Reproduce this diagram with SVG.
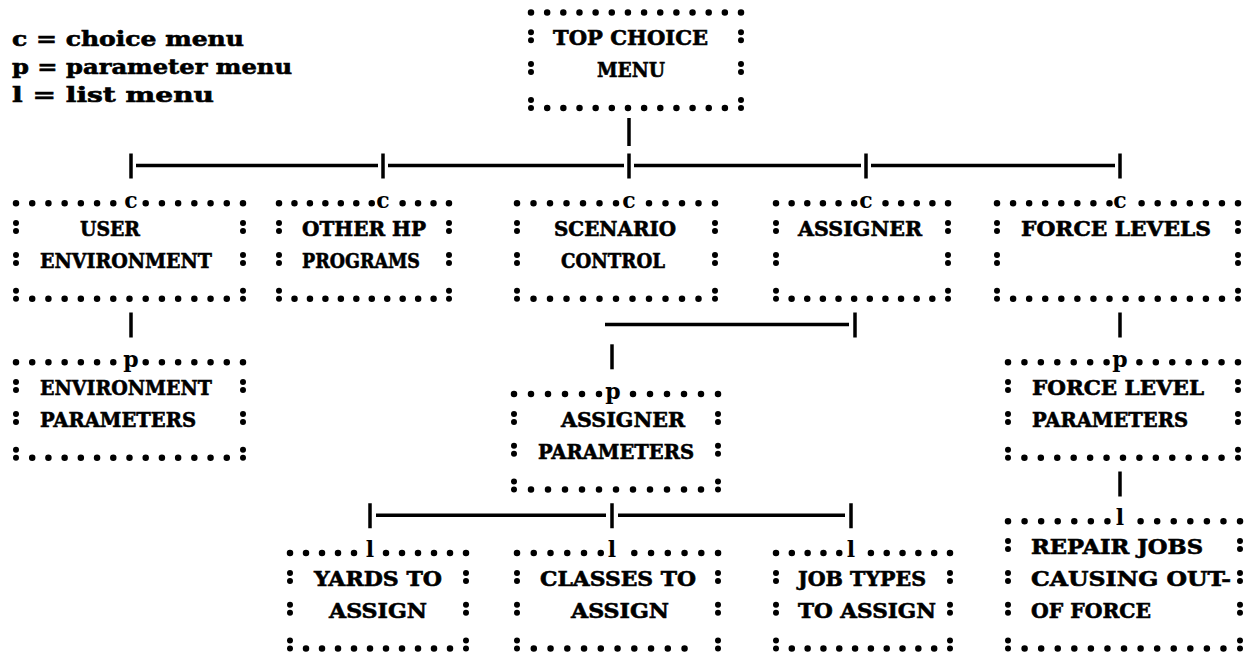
<svg xmlns="http://www.w3.org/2000/svg" width="1256" height="659" viewBox="0 0 1256 659">
<style>
.t{font-family:"DejaVu Serif","Liberation Serif",serif;font-weight:bold;font-size:20px;fill:#000;stroke:#000;stroke-width:0.6;}
.m{font-family:"DejaVu Serif","Liberation Serif",serif;font-weight:bold;font-size:22px;fill:#000;text-anchor:middle;}
.d{fill:none;stroke:#000;stroke-width:6.5;stroke-linecap:round;}
.k{fill:none;stroke:#000;stroke-width:6;stroke-linecap:round;stroke-dasharray:0 7.99;}
.ln{fill:none;stroke:#000;stroke-width:3.5;stroke-linecap:butt;}
</style>
<rect width="1256" height="659" fill="#fff"/>
<g id="legend">
<text class="t" x="12" y="46" textLength="232" lengthAdjust="spacingAndGlyphs">c = choice menu</text>
<text class="t" x="12" y="74" textLength="280" lengthAdjust="spacingAndGlyphs">p = parameter menu</text>
<text class="t" x="12" y="102" textLength="202" lengthAdjust="spacingAndGlyphs">l = list menu</text>
</g>
<g id="top-choice-menu">
<path class="d" style="stroke-dasharray:0 16.154" d="M531 12.5H741.1"/>
<path class="k" d="M531 32.3v8M741 32.3v8M531 64.1v8M741 64.1v8M531 99.9v8M741 99.9v8"/>
<path class="d" style="stroke-dasharray:0 16.154" d="M547.2 107.9H725"/>
<text class="t" x="553" y="45.3" textLength="155" lengthAdjust="spacingAndGlyphs">TOP CHOICE</text>
<text class="t" x="597" y="77.1" textLength="68" lengthAdjust="spacingAndGlyphs">MENU</text>
</g>
<g id="user-environment">
<path class="d" style="stroke-dasharray:0 16.214" d="M16 203.3H113.4M145.7 203.3H243.1"/>
<text class="m" x="131" y="208.3">c</text>
<path class="k" d="M16 223.1v8M243 223.1v8M16 254.9v8M243 254.9v8M16 290.7v8M243 290.7v8"/>
<path class="d" style="stroke-dasharray:0 16.214" d="M32.2 298.7H226.9"/>
<text class="t" x="80" y="236.1" textLength="60" lengthAdjust="spacingAndGlyphs">USER</text>
<text class="t" x="40" y="267.9" textLength="172" lengthAdjust="spacingAndGlyphs">ENVIRONMENT</text>
</g>
<g id="other-hp-programs">
<path class="d" style="stroke-dasharray:0 15.4545" d="M279 203.3H371.8M402.6 203.3H449.1"/>
<text class="m" x="383" y="208.3">c</text>
<path class="k" d="M279 223.1v8M449 223.1v8M279 254.9v8M449 254.9v8M279 290.7v8M449 290.7v8"/>
<path class="d" style="stroke-dasharray:0 15.4545" d="M294.5 298.7H433.6"/>
<text class="t" x="302" y="236.1" textLength="124" lengthAdjust="spacingAndGlyphs">OTHER HP</text>
<text class="t" x="302" y="267.9" textLength="118" lengthAdjust="spacingAndGlyphs">PROGRAMS</text>
</g>
<g id="scenario-control">
<path class="d" style="stroke-dasharray:0 16.5" d="M517 203.3H616.1M649 203.3H715.1"/>
<text class="m" x="629" y="208.3">c</text>
<path class="k" d="M517 223.1v8M715 223.1v8M517 254.9v8M715 254.9v8M517 290.7v8M715 290.7v8"/>
<path class="d" style="stroke-dasharray:0 16.5" d="M533.5 298.7H698.6"/>
<text class="t" x="554" y="236.1" textLength="122" lengthAdjust="spacingAndGlyphs">SCENARIO</text>
<text class="t" x="561" y="267.9" textLength="104" lengthAdjust="spacingAndGlyphs">CONTROL</text>
</g>
<g id="assigner">
<path class="d" style="stroke-dasharray:0 15.636" d="M776 203.3H854.3M885.5 203.3H948.1"/>
<text class="m" x="866" y="208.3">c</text>
<path class="k" d="M776 223.1v8M948 223.1v8M776 254.9v8M948 254.9v8M776 290.7v8M948 290.7v8"/>
<path class="d" style="stroke-dasharray:0 15.636" d="M791.6 298.7H932.4"/>
<text class="t" x="798" y="236.1" textLength="124" lengthAdjust="spacingAndGlyphs">ASSIGNER</text>
</g>
<g id="force-levels">
<path class="d" style="stroke-dasharray:0 16.067" d="M997 203.3H1109.6M1141.6 203.3H1238.1"/>
<text class="m" x="1120" y="208.3">c</text>
<path class="k" d="M997 223.1v8M1238 223.1v8M997 254.9v8M1238 254.9v8M997 290.7v8M1238 290.7v8"/>
<path class="d" style="stroke-dasharray:0 16.067" d="M1013.1 298.7H1222"/>
<text class="t" x="1021" y="236.1" textLength="190" lengthAdjust="spacingAndGlyphs">FORCE LEVELS</text>
</g>
<g id="environment-parameters">
<path class="d" style="stroke-dasharray:0 16.214" d="M16 362.3H113.4M145.7 362.3H243.1"/>
<text class="m" x="131" y="367.3">p</text>
<path class="k" d="M16 382.1v8M243 382.1v8M16 413.9v8M243 413.9v8M16 449.7v8M243 449.7v8"/>
<path class="d" style="stroke-dasharray:0 16.214" d="M32.2 457.7H226.9"/>
<text class="t" x="40" y="395.1" textLength="172" lengthAdjust="spacingAndGlyphs">ENVIRONMENT</text>
<text class="t" x="40" y="426.9" textLength="156" lengthAdjust="spacingAndGlyphs">PARAMETERS</text>
</g>
<g id="force-level-parameters">
<path class="d" style="stroke-dasharray:0 16.43" d="M1008 362.3H1106.7M1139.4 362.3H1238.1"/>
<text class="m" x="1120" y="367.3">p</text>
<path class="k" d="M1008 382.1v8M1238 382.1v8M1008 413.9v8M1238 413.9v8M1008 449.7v8M1238 449.7v8"/>
<path class="d" style="stroke-dasharray:0 16.43" d="M1024.4 457.7H1221.7"/>
<text class="t" x="1032" y="395.1" textLength="172" lengthAdjust="spacingAndGlyphs">FORCE LEVEL</text>
<text class="t" x="1032" y="426.9" textLength="156" lengthAdjust="spacingAndGlyphs">PARAMETERS</text>
</g>
<g id="assigner-parameters">
<path class="d" style="stroke-dasharray:0 17" d="M514 394.1H599.1M633 394.1H718.1"/>
<text class="m" x="613" y="399.1">p</text>
<path class="k" d="M514 413.9v8M718 413.9v8M514 445.7v8M718 445.7v8M514 481.5v8M718 481.5v8"/>
<path class="d" style="stroke-dasharray:0 17" d="M531 489.5H701.1"/>
<text class="t" x="561" y="426.9" textLength="124" lengthAdjust="spacingAndGlyphs">ASSIGNER</text>
<text class="t" x="538" y="458.7" textLength="156" lengthAdjust="spacingAndGlyphs">PARAMETERS</text>
</g>
<g id="yards-to-assign">
<path class="d" style="stroke-dasharray:0 16" d="M290 553.1H354.1M386 553.1H466.1"/>
<text class="m" x="370" y="557.1">l</text>
<path class="k" d="M290 572.9v8M466 572.9v8M290 604.7v8M466 604.7v8M290 640.5v8M466 640.5v8"/>
<path class="d" style="stroke-dasharray:0 16" d="M306 648.5H450.1"/>
<text class="t" x="314" y="585.9" textLength="128" lengthAdjust="spacingAndGlyphs">YARDS TO</text>
<text class="t" x="329" y="617.7" textLength="98" lengthAdjust="spacingAndGlyphs">ASSIGN</text>
</g>
<g id="classes-to-assign">
<path class="d" style="stroke-dasharray:0 16.75" d="M517 553.1H600.8M634.3 553.1H718.1"/>
<text class="m" x="612" y="557.1">l</text>
<path class="k" d="M517 572.9v8M718 572.9v8M517 604.7v8M718 604.7v8M517 640.5v8M718 640.5v8"/>
<path class="d" style="stroke-dasharray:0 16.75" d="M533.8 648.5H701.3"/>
<text class="t" x="540" y="585.9" textLength="156" lengthAdjust="spacingAndGlyphs">CLASSES TO</text>
<text class="t" x="571" y="617.7" textLength="98" lengthAdjust="spacingAndGlyphs">ASSIGN</text>
</g>
<g id="job-types-to-assign">
<path class="d" style="stroke-dasharray:0 15.818" d="M776 553.1H839.3M870.9 553.1H950.1"/>
<text class="m" x="851" y="557.1">l</text>
<path class="k" d="M776 572.9v8M950 572.9v8M776 604.7v8M950 604.7v8M776 640.5v8M950 640.5v8"/>
<path class="d" style="stroke-dasharray:0 15.818" d="M791.8 648.5H934.3"/>
<text class="t" x="798" y="585.9" textLength="128" lengthAdjust="spacingAndGlyphs">JOB TYPES</text>
<text class="t" x="798" y="617.7" textLength="138" lengthAdjust="spacingAndGlyphs">TO ASSIGN</text>
</g>
<g id="repair-jobs">
<path class="d" style="stroke-dasharray:0 16.571" d="M1008 521.3H1107.5M1140.6 521.3H1240.1"/>
<text class="m" x="1120" y="525.3">l</text>
<path class="k" d="M1008 541.1v8M1240 541.1v8M1008 572.9v8M1240 572.9v8M1008 604.7v8M1240 604.7v8M1008 640.5v8M1240 640.5v8"/>
<path class="d" style="stroke-dasharray:0 16.571" d="M1024.6 648.5H1223.5"/>
<text class="t" x="1031" y="554.1" textLength="172" lengthAdjust="spacingAndGlyphs">REPAIR JOBS</text>
<text class="t" x="1031" y="585.9" textLength="200" lengthAdjust="spacingAndGlyphs">CAUSING OUT-</text>
<text class="t" x="1031" y="617.7" textLength="120" lengthAdjust="spacingAndGlyphs">OF FORCE</text>
</g>
<g id="connectors">
<path class="ln" d="M629 118V146"/>
<path class="ln" d="M131 153.5V178.5M383 153.5V178.5M629 153.5V178.5M866 153.5V178.5M1120 153.5V178.5"/>
<path class="ln" d="M136 165.5H378M388 165.5H624M634 165.5H861M871 165.5H1115"/>
<path class="ln" d="M131 312.5V337.5M1120 312.5V337.5M855 312.5V337.5"/>
<path class="ln" d="M605 324.5H849"/>
<path class="ln" d="M612 344.3V369.3"/>
<path class="ln" d="M1120 471.5V496.5"/>
<path class="ln" d="M370 503.3V528.3M612 503.3V528.3M851 503.3V528.3"/>
<path class="ln" d="M376 515.3H606M618 515.3H845"/>
</g>
</svg>
